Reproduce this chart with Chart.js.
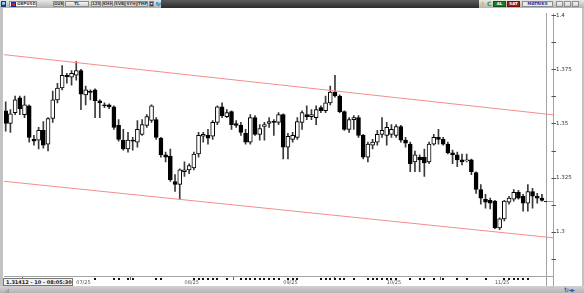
<!DOCTYPE html>
<html><head><meta charset="utf-8">
<script src="https://cdn.jsdelivr.net/npm/chart.js@4.4.0/dist/chart.umd.min.js"></script>
<style>
html,body{margin:0;padding:0}
body{width:584px;height:293px;overflow:hidden;position:relative;background:#c2c2c2;font-family:"DejaVu Sans",sans-serif}
#tb{position:absolute;left:0;top:0;width:584px;height:8px;background:linear-gradient(#e8e8e8,#b2b2b2)}
.b{position:absolute;top:1px;height:6px;box-sizing:border-box;border:1px solid #8c8c8c;background:linear-gradient(#f6f6f6,#cfcfcf);font:bold 4px "DejaVu Sans";line-height:4px;color:#333;text-align:center;white-space:nowrap;overflow:hidden}
#panel{position:absolute;left:3px;top:8px;width:579px;height:278px;background:#fff}
#bot{position:absolute;left:0;top:286px;width:584px;height:7px;background:linear-gradient(#d2d2d2,#b4b4b4)}
#c{position:absolute;left:0;top:0}
#info{position:absolute;left:3px;top:278px;width:70px;height:8px;box-sizing:border-box;border:1px solid #777;background:#f2f2f2;font:bold 5px "DejaVu Sans";line-height:6px;color:#222;padding-left:2px;white-space:nowrap}
.t{position:absolute;font:5px "DejaVu Sans";white-space:nowrap}
</style></head>
<body>
<div id="tb">
  <div class="b" style="left:1px;width:5px;background:#1b3c8c;color:#fff;border-color:#1b3c8c">M</div>
  <div class="b" style="left:9px;width:28px;background:#fff;text-align:left;padding-left:7px;color:#445">GBPUSD</div>
  <div style="position:absolute;left:11px;top:2px;width:3px;height:3px;background:#c22;border:0.5px solid #229"></div>
  <div class="b" style="left:53px;width:11px">GUN</div>
  <div class="b" style="left:65px;width:24px">TL</div>
  <div class="b" style="left:91px;width:10px">12S</div>
  <div class="b" style="left:102px;width:11px">KHH</div>
  <div class="b" style="left:114px;width:11px">SVB</div>
  <div class="b" style="left:125px;width:12px">SYH</div>
  <div class="b" style="left:137px;width:11px">TMF</div>
  <div class="b" style="left:149px;width:5px;background:#445;color:#fff">▾</div>
  <div class="t" style="left:155px;top:0px;color:#1da1f2;font-size:6px">🐦</div>
  <div style="position:absolute;left:161px;top:0;width:318px;height:8px;background:linear-gradient(#5c5c5c,#2c2c2c)"></div>
  <div class="t" style="left:481px;top:0px;color:#e8b400;font-size:6px;font-weight:bold">ϟ</div>
  <div class="t" style="left:487px;top:0px;color:#2a9a2a;font-size:6px;font-weight:bold">C</div>
  <div class="b" style="left:493px;width:13px;background:#1e7a1e;color:#fff;border-color:#145214">AL</div>
  <div class="b" style="left:507px;width:13px;background:#a41a1a;color:#fff;border-color:#6e1010">SAT</div>
  <div class="b" style="left:522px;width:31px;background:#eaeaea;color:#2a2a8a">MATRIKS</div>
  <div class="b" style="left:556px;width:7px"></div>
  <div class="b" style="left:564px;width:7px"></div>
  <div class="b" style="left:572px;width:7px"></div>
</div>
<div id="panel"></div>
<div id="bot"></div>
<canvas id="c" width="584" height="293"></canvas>
<div id="info">1.31412 - 10 - 08:05:30</div>
<div class="t" style="left:5px;top:287px;color:#666;font-size:5px">◿</div>
<div class="t" style="left:548px;top:283px;color:#888;font-size:5px">....</div>
<div class="t" style="left:564px;top:286px;color:#2a5bbf;font-size:6px;font-weight:bold">↻◂▸</div>
<script>
// ---- data (GBPUSD daily candles) ----
const opens = [
1.3559,1.3500,1.3550,1.3618,1.3541,1.3582,1.3427,1.3423,1.3468,1.3405,
1.3523,1.3609,1.3664,1.3723,1.3714,1.3723,1.3745,1.3632,1.3650,1.3655,
1.3605,1.3586,1.3586,1.3577,1.3491,1.3423,1.3382,1.3423,1.3414,1.3450,
1.3491,1.3514,1.3518,1.3432,1.3355,1.3350,1.3232,1.3218,1.3277,1.3286,
1.3295,1.3359,1.3441,1.3445,1.3441,1.3505,1.3577,1.3532,1.3555,1.3500,
1.3491,1.3455,1.3414,1.3527,1.3450,1.3486,1.3500,1.3509,1.3505,1.3541,
1.3391,1.3427,1.3436,1.3505,1.3541,1.3532,1.3527,1.3573,1.3559,1.3595,
1.3645,1.3627,1.3555,1.3473,1.3518,1.3527,1.3445,1.3345,1.3400,1.3414,
1.3450,1.3445,1.3450,1.3445,1.3486,1.3423,1.3405,1.3323,1.3345,1.3345,
1.3323,1.3405,1.3436,1.3427,1.3405,1.3364,1.3355,1.3332,1.3327,1.3332,
1.3273,1.3195,1.3150,1.3145,1.3141,1.3018,1.3059,1.3136,1.3150,1.3182,
1.3164,1.3132,1.3186,1.3164,1.3155];
const highs = [
1.3600,1.3564,1.3627,1.3627,1.3627,1.3586,1.3445,1.3482,1.3509,1.3527,
1.3650,1.3686,1.3768,1.3732,1.3745,1.3786,1.3750,1.3673,1.3655,1.3660,
1.3609,1.3595,1.3591,1.3582,1.3518,1.3473,1.3459,1.3436,1.3514,1.3518,
1.3541,1.3586,1.3527,1.3436,1.3368,1.3382,1.3264,1.3291,1.3323,1.3314,
1.3368,1.3459,1.3459,1.3473,1.3514,1.3582,1.3595,1.3564,1.3559,1.3514,
1.3505,1.3473,1.3541,1.3536,1.3495,1.3505,1.3527,1.3518,1.3550,1.3545,
1.3455,1.3459,1.3527,1.3559,1.3582,1.3564,1.3582,1.3582,1.3627,1.3673,
1.3723,1.3632,1.3559,1.3527,1.3536,1.3536,1.3450,1.3414,1.3427,1.3468,
1.3527,1.3505,1.3495,1.3495,1.3491,1.3436,1.3414,1.3373,1.3355,1.3382,
1.3414,1.3450,1.3473,1.3436,1.3414,1.3377,1.3368,1.3359,1.3359,1.3336,
1.3277,1.3218,1.3173,1.3155,1.3145,1.3064,1.3145,1.3164,1.3195,1.3191,
1.3173,1.3218,1.3200,1.3177,1.3173];
const lows = [
1.3464,1.3459,1.3541,1.3541,1.3527,1.3414,1.3400,1.3382,1.3386,1.3373,
1.3505,1.3595,1.3655,1.3686,1.3677,1.3700,1.3564,1.3586,1.3609,1.3527,
1.3527,1.3573,1.3568,1.3473,1.3418,1.3377,1.3368,1.3377,1.3391,1.3445,
1.3482,1.3505,1.3427,1.3345,1.3323,1.3232,1.3186,1.3150,1.3255,1.3268,
1.3286,1.3345,1.3414,1.3405,1.3427,1.3495,1.3527,1.3527,1.3473,1.3482,
1.3445,1.3405,1.3405,1.3445,1.3423,1.3423,1.3482,1.3445,1.3495,1.3336,
1.3336,1.3414,1.3427,1.3473,1.3518,1.3518,1.3495,1.3550,1.3550,1.3586,
1.3622,1.3550,1.3468,1.3459,1.3473,1.3436,1.3336,1.3323,1.3382,1.3400,
1.3436,1.3400,1.3436,1.3436,1.3414,1.3391,1.3277,1.3277,1.3277,1.3255,
1.3314,1.3400,1.3405,1.3400,1.3359,1.3314,1.3300,1.3309,1.3323,1.3264,
1.3177,1.3127,1.3109,1.3105,1.3014,1.3010,1.3050,1.3127,1.3141,1.3150,
1.3095,1.3095,1.3109,1.3132,1.3141];
const closes = [
1.3500,1.3545,1.3609,1.3568,1.3586,1.3436,1.3418,1.3468,1.3400,1.3523,
1.3609,1.3664,1.3723,1.3716,1.3732,1.3745,1.3636,1.3655,1.3643,1.3605,
1.3595,1.3582,1.3577,1.3482,1.3427,1.3382,1.3423,1.3418,1.3473,1.3495,
1.3532,1.3582,1.3436,1.3355,1.3345,1.3241,1.3218,1.3286,1.3286,1.3305,
1.3359,1.3445,1.3450,1.3432,1.3505,1.3577,1.3536,1.3550,1.3495,1.3491,
1.3459,1.3414,1.3527,1.3450,1.3477,1.3495,1.3509,1.3505,1.3541,1.3391,
1.3441,1.3445,1.3509,1.3550,1.3532,1.3541,1.3564,1.3559,1.3595,1.3645,
1.3627,1.3555,1.3473,1.3518,1.3527,1.3445,1.3345,1.3405,1.3414,1.3450,
1.3468,1.3482,1.3473,1.3486,1.3423,1.3409,1.3314,1.3355,1.3332,1.3318,
1.3405,1.3436,1.3427,1.3405,1.3364,1.3355,1.3332,1.3323,1.3332,1.3277,
1.3195,1.3155,1.3136,1.3132,1.3018,1.3059,1.3141,1.3155,1.3182,1.3155,
1.3132,1.3186,1.3164,1.3155,1.3145];
const monthIdx = [15, 38, 59, 81, 104];
const monthLabels = ['07/25', '08/25', '09/25', '10/25', '11/25'];
const yTickValues = [1.2875, 1.3, 1.3125, 1.325, 1.3375, 1.35, 1.3625, 1.375, 1.3875, 1.4];
const yLabelValues = [1.3, 1.325, 1.35, 1.375, 1.4];
const upperChannel = [{x: -0.36, y: 1.3818}, {x: 116.35, y: 1.3540}];
const lowerChannel = [{x: -0.36, y: 1.3233}, {x: 116.35, y: 1.2972}];
const eventIdx = [14,19,23,24,26,27,32,33,40,41,42,43,44,45,47,50,51,52,53,54,55,56,57,58,60,61,62,67,68,69,70,71,72,74,77,78,79,80,81,82,83,86,88,89,91,93,96,98,102,106,107,108,109,110,111];
const lastPrice = 1.31412;

const idx = opens.map((_, i) => i);
const bodies = idx.map(i => ({x: i, y: [opens[i], closes[i]]}));
const wicks = idx.map(i => ({x: i, y: [lows[i], highs[i]]}));

const chrome = {
  id: 'chrome',
  afterDraw(chart) {
    const {ctx, scales: {x, y}, chartArea: ca} = chart;
    ctx.save();
    ctx.strokeStyle = '#a2a2a2'; ctx.lineWidth = 1;
    ctx.beginPath();
    ctx.moveTo(553.5, ca.top); ctx.lineTo(553.5, 286);
    ctx.moveTo(ca.right + 0.5, ca.bottom); ctx.lineTo(ca.right + 0.5, 286);
    ctx.moveTo(ca.right, ca.bottom + 0.5); ctx.lineTo(554, ca.bottom + 0.5);
    ctx.stroke();
    ctx.strokeStyle = '#555';
    ctx.beginPath();
    yTickValues.forEach(v => {
      const py = Math.round(y.getPixelForValue(v)) + 0.5;
      ctx.moveTo(551.5, py); ctx.lineTo(556, py);
    });
    ctx.stroke();
    const lp = Math.round(y.getPixelForValue(lastPrice)) + 0.5;
    ctx.strokeStyle = '#222'; ctx.beginPath(); ctx.moveTo(544, lp); ctx.lineTo(547, lp); ctx.stroke();
    ctx.strokeStyle = '#3cc4d6'; ctx.beginPath(); ctx.moveTo(547, lp); ctx.lineTo(553, lp); ctx.stroke();
    ctx.fillStyle = '#111';
    eventIdx.forEach(e => {
      const px = Math.round(x.getPixelForValue(e));
      ctx.fillRect(px - 1, 278, 2, 2);
    });
    ctx.restore();
  }
};

new Chart(document.getElementById('c'), {
  type: 'bar',
  data: {
    datasets: [
      {type: 'line', data: upperChannel, borderColor: '#f48c8c', borderWidth: 1, pointRadius: 0, clip: false, order: 0},
      {type: 'line', data: lowerChannel, borderColor: '#f48c8c', borderWidth: 1, pointRadius: 0, clip: false, order: 0},
      {data: bodies, backgroundColor: idx.map(i => closes[i] >= opens[i] ? '#ffffff' : '#000000'),
       borderColor: '#000', borderWidth: 1, borderSkipped: false, barThickness: 4, grouped: false, minBarLength: 1, order: 1},
      {data: wicks, backgroundColor: '#3a3a3a', borderWidth: 0, barThickness: 1, grouped: false, order: 2}
    ]
  },
  options: {
    responsive: false, devicePixelRatio: 1, animation: false,
    layout: {padding: {left: 4, top: 9, right: 1, bottom: 8}},
    plugins: {legend: {display: false}, tooltip: {enabled: false}},
    scales: {
      x: {
        type: 'linear', min: -0.361, max: 114.86, offset: false,
        afterFit(s) { s.height = 9; },
        afterBuildTicks(s) { s.ticks = monthIdx.map(v => ({value: v})); },
        ticks: {
          callback: v => { const k = monthIdx.indexOf(v); return k >= 0 ? monthLabels[k] : ''; },
          align: 'start', padding: 0, maxRotation: 0, autoSkip: false,
          font: {size: 5, family: 'DejaVu Sans'}, color: '#555'
        },
        grid: {drawOnChartArea: false, drawTicks: true, tickLength: 4, color: '#666'},
        border: {color: '#a2a2a2'}
      },
      y: {
        type: 'linear', position: 'right', min: 1.279545, max: 1.400909,
        afterFit(s) { s.width = 37; },
        afterBuildTicks(s) { s.ticks = yTickValues.map(v => ({value: v})); },
        ticks: {
          callback: v => yLabelValues.some(l => Math.abs(l - v) < 1e-6) ? String(+v.toFixed(4)) : '',
          padding: 10, autoSkip: false,
          font: {size: 5.5, family: 'DejaVu Sans'}, color: '#333'
        },
        grid: {drawOnChartArea: false, drawTicks: false},
        border: {color: '#a2a2a2'}
      }
    }
  },
  plugins: [chrome]
});
</script>
</body></html>
